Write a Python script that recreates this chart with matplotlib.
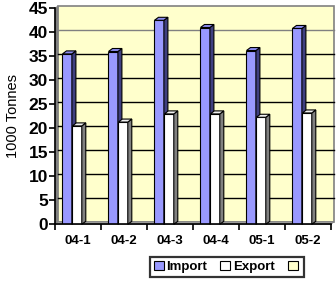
import numpy as np
import matplotlib
matplotlib.use("Agg")
import matplotlib.pyplot as plt
from matplotlib.patches import Polygon, Patch

plt.rcParams['font.family'] = ['Liberation Sans', 'DejaVu Sans']

quarters = ['04-1', '04-2', '04-3', '04-4', '05-1', '05-2']
imports = [35.5, 36.0, 42.5, 41.0, 36.2, 40.8]
exports = [20.5, 21.3, 23.0, 23.0, 22.3, 23.2]
yticks = [0, 5, 10, 15, 20, 25, 30, 35, 40, 45]

W, H = 336, 282
fig = plt.figure(figsize=(W / 100, H / 100), dpi=100)
# front axis box in pixels: x 55..331, y 0 at 224.3, 45 at 8.3
ax = fig.add_axes([55 / W, 1 - 224.3 / H, 276 / W, 216 / H])
ax.set_xlim(0, 6)
ax.set_ylim(0, 45)

ux = 6 / 276.0   # data units per pixel, x
uy = 45 / 216.0  # data units per pixel, y

# back wall offset and bar depth
wdx, wdy = 3 * ux, 2.5 * uy
bdx, bdy = 4 * ux, 3 * uy

wall = Polygon([(wdx, wdy), (6 + wdx, wdy), (6 + wdx, 45 + wdy), (wdx, 45 + wdy)],
               closed=True, facecolor='#FFFFCC', edgecolor='#808080', lw=1.2,
               clip_on=False, zorder=0)
ax.add_patch(wall)
left_wall = Polygon([(0, 0), (wdx, wdy), (wdx, 45 + wdy), (0, 45)], closed=True,
                    facecolor='#808080', edgecolor='#808080', lw=0.5,
                    clip_on=False, zorder=0.5)
ax.add_patch(left_wall)
floor = Polygon([(0, 0), (6, 0), (6 + wdx, wdy), (wdx, wdy)], closed=True,
                facecolor='#A0A0A0', edgecolor='#808080', lw=0.5,
                clip_on=False, zorder=0.5)
ax.add_patch(floor)

for v in yticks[1:-1]:
    col = '#808080' if v == 40 else 'black'
    ax.plot([wdx, 6 + wdx], [v + wdy, v + wdy], color=col, lw=1.0,
            zorder=1, clip_on=False)

bw = 0.205
x = np.arange(len(quarters))


def bar3d(xc, vals, front, side, top):
    ax.bar(xc, vals, width=bw, color=front, edgecolor='black', lw=0.8, zorder=3)
    for xi, v in zip(xc, vals):
        x0, x1 = xi - bw / 2, xi + bw / 2
        ax.add_patch(Polygon([(x1, 0), (x1 + bdx, bdy), (x1 + bdx, v + bdy), (x1, v)],
                             closed=True, facecolor=side, edgecolor='black',
                             lw=0.8, zorder=3, clip_on=False))
        ax.add_patch(Polygon([(x0, v), (x1, v), (x1 + bdx, v + bdy), (x0 + bdx, v + bdy)],
                             closed=True, facecolor=top, edgecolor='black',
                             lw=0.8, zorder=3, clip_on=False))


bar3d(x + 0.265, imports, '#9999FF', '#3F3F80', '#8C8CF0')
bar3d(x + 0.48, exports, 'white', '#808080', '#F0F0F0')

for s in ['top', 'right']:
    ax.spines[s].set_visible(False)
for s in ['left', 'bottom']:
    ax.spines[s].set_color('black')
    ax.spines[s].set_linewidth(1.2)
    ax.spines[s].set_zorder(5)

ax.set_yticks(yticks)
ax.set_yticklabels([str(v) for v in yticks], fontsize=12.5, fontweight='bold')
ax.set_xticks(np.arange(7))
ax.set_xticklabels([])
ax.set_xticks(x + 0.5, minor=True)
ax.set_xticklabels(quarters, minor=True, fontsize=9.5, fontweight='bold')
ax.tick_params(axis='x', which='minor', length=0, pad=8)
ax.tick_params(axis='x', which='major', length=4, width=1.2, direction='out')
ax.tick_params(axis='y', length=4, width=1.2, direction='out', pad=1)
ax.set_ylabel('1000 Tonnes', fontsize=10.5, labelpad=6)
ax.patch.set_visible(False)

handles = [Patch(facecolor='#9999FF', edgecolor='black', lw=0.8),
           Patch(facecolor='white', edgecolor='black', lw=0.8),
           Patch(facecolor='#FFFFCC', edgecolor='black', lw=0.8)]
leg = fig.legend(handles, ['Import', 'Export', ''], ncol=3, loc='center',
                 bbox_to_anchor=(227 / W, 1 - 267 / H), frameon=True,
                 fancybox=False, edgecolor='black',
                 prop={'weight': 'bold', 'size': 9.5},
                 handlelength=0.75, handleheight=0.75, handletextpad=0.2,
                 columnspacing=1.0, borderpad=0.25, borderaxespad=0)
leg.get_frame().set_linewidth(1.6)

fig.savefig('out.png', dpi=100)
